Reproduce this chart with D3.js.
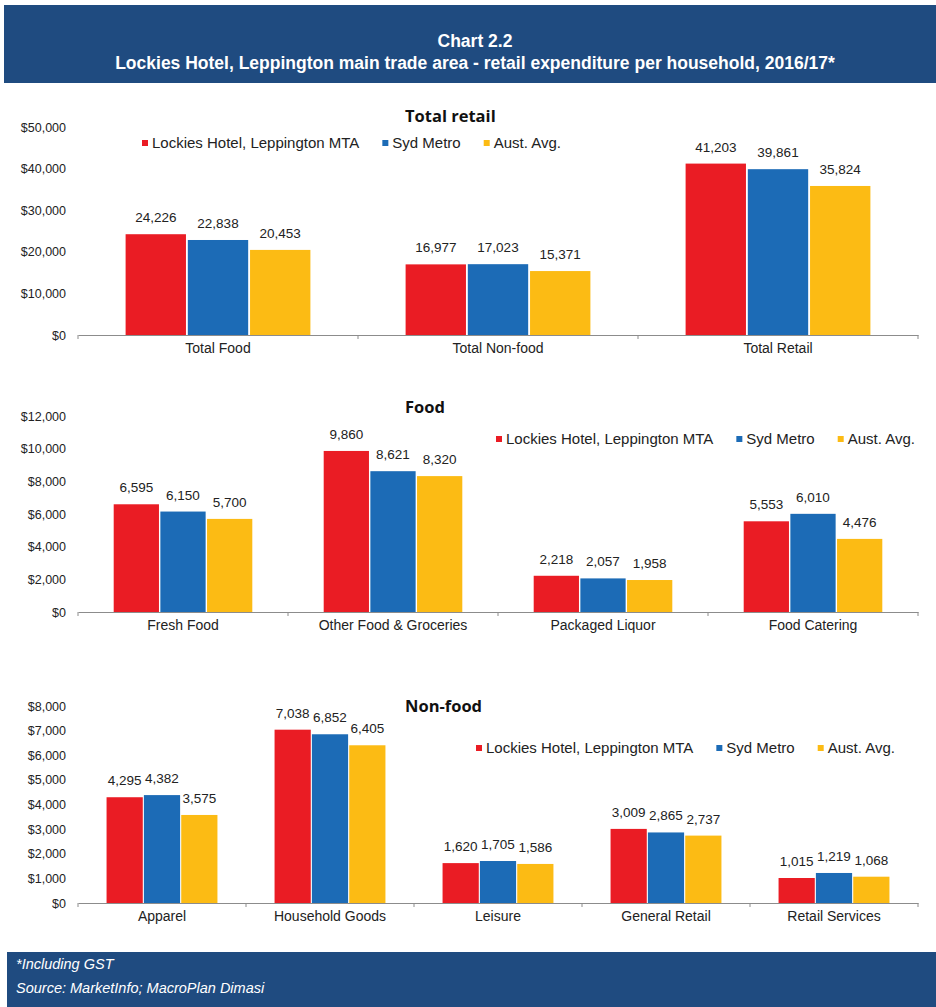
<!DOCTYPE html>
<html><head><meta charset="utf-8">
<script src="https://cdn.jsdelivr.net/npm/d3@7/dist/d3.min.js"></script>
<style>
body{margin:0;background:#fff;}
svg{display:block;font-family:"Liberation Sans",Arial,sans-serif;}
</style></head>
<body>
<svg id="c" width="936" height="1007"></svg>
<script>
const series = ["Lockies Hotel, Leppington MTA", "Syd Metro", "Aust. Avg."];
const seriesColors = ["#ea1c24", "#1c6bb6", "#fcbb14"];

const totalCats = ["Total Food", "Total Non-food", "Total Retail"];
const totalLockies = [24226, 16977, 41203];
const totalSyd = [22838, 17023, 39861];
const totalAust = [20453, 15371, 35824];
const totalTicks = [0, 10000, 20000, 30000, 40000, 50000];

const foodCats = ["Fresh Food", "Other Food & Groceries", "Packaged Liquor", "Food Catering"];
const foodLockies = [6595, 9860, 2218, 5553];
const foodSyd = [6150, 8621, 2057, 6010];
const foodAust = [5700, 8320, 1958, 4476];
const foodTicks = [0, 2000, 4000, 6000, 8000, 10000, 12000];

const nonfoodCats = ["Apparel", "Household Goods", "Leisure", "General Retail", "Retail Services"];
const nonfoodLockies = [4295, 7038, 1620, 3009, 1015];
const nonfoodSyd = [4382, 6852, 1705, 2865, 1219];
const nonfoodAust = [3575, 6405, 1586, 2737, 1068];
const nonfoodTicks = [0, 1000, 2000, 3000, 4000, 5000, 6000, 7000, 8000];

const svg = d3.select("#c");
const HB = "#1f4b80";

// header
svg.append("rect").attr("x", 4).attr("y", 5).attr("width", 932).attr("height", 78).attr("fill", HB);
svg.append("text").attr("x", 475).attr("y", 47).attr("text-anchor", "middle").attr("fill", "#fff")
  .attr("font-size", 17.5).attr("font-weight", "bold").text("Chart 2.2");
svg.append("text").attr("x", 475).attr("y", 69).attr("text-anchor", "middle").attr("fill", "#fff")
  .attr("font-size", 17.5).attr("font-weight", "bold")
  .text("Lockies Hotel, Leppington main trade area - retail expenditure per household, 2016/17*");

// footer
svg.append("rect").attr("x", 7).attr("y", 952).attr("width", 929).attr("height", 55).attr("fill", HB);
svg.append("text").attr("x", 16).attr("y", 969).attr("fill", "#fff").attr("font-size", 14.5)
  .attr("font-style", "italic").text("*Including GST");
svg.append("text").attr("x", 16).attr("y", 993).attr("fill", "#fff").attr("font-size", 14.5)
  .attr("font-style", "italic").text("Source: MarketInfo; MacroPlan Dimasi");

const panels = [
  {title: "Total retail", titleY: 122, cats: totalCats, vals: [totalLockies, totalSyd, totalAust], ticks: totalTicks,
   y0: 335, y1: 127, legX: 145, legY: 143},
  {title: "Food", titleY: 413, cats: foodCats, vals: [foodLockies, foodSyd, foodAust], ticks: foodTicks,
   y0: 612, y1: 416, legX: 499, legY: 439},
  {title: "Non-food", titleY: 712, cats: nonfoodCats, vals: [nonfoodLockies, nonfoodSyd, nonfoodAust], ticks: nonfoodTicks,
   y0: 903, y1: 706, legX: 479, legY: 748}
];

const fmt = d3.format(",");
const money = v => "$" + d3.format(",")(v);

panels.forEach(p => {
  const g = svg.append("g");
  const x = d3.scaleBand().domain(p.cats).range([78, 918]).paddingInner(0).paddingOuter(0);
  const bw = x.bandwidth();
  const xs = d3.scaleBand().domain(series).range([bw * 0.17, bw * 0.83]).paddingInner(0.03);
  const y = d3.scaleLinear().domain([0, d3.max(p.ticks)]).range([p.y0, p.y1]);

  // title
  g.append("text").attr("x", 405).attr("y", p.titleY).attr("font-size", 16.5).attr("font-weight", "bold")
    .attr("fill", "#111").attr("font-family", "'Open Sans','Liberation Sans',sans-serif").text(p.title);

  // y axis
  const ya = g.append("g").attr("transform", "translate(78,0)")
    .call(d3.axisLeft(y).tickValues(p.ticks).tickFormat(money).tickSize(0).tickPadding(12));
  ya.select(".domain").remove();
  ya.selectAll("text").attr("font-size", 12.5).attr("fill", "#222").attr("font-family", "'Liberation Sans',Arial,sans-serif");

  // bars
  series.forEach((s, si) => {
    g.selectAll(null).data(p.cats).enter().append("rect")
      .attr("x", c => x(c) + xs(s))
      .attr("width", xs.bandwidth())
      .attr("y", (c, i) => y(p.vals[si][i]))
      .attr("height", (c, i) => y(0) - y(p.vals[si][i]))
      .attr("fill", seriesColors[si]);
    g.selectAll(null).data(p.cats).enter().append("text")
      .attr("x", c => x(c) + xs(s) + xs.bandwidth() / 2)
      .attr("y", (c, i) => y(p.vals[si][i]) - 12)
      .attr("text-anchor", "middle").attr("font-size", 13.5).attr("fill", "#222")
      .text((c, i) => fmt(p.vals[si][i]));
  });

  // x axis
  const xa = g.append("g").attr("transform", `translate(0,${p.y0})`)
    .call(d3.axisBottom(x).tickSize(0).tickPadding(8));
  xa.select(".domain").attr("stroke", "#8c8c8c").attr("stroke-width", 1.2);
  xa.selectAll("text").attr("font-size", 14).attr("fill", "#222").attr("font-family", "'Liberation Sans',Arial,sans-serif");
  const bounds = p.cats.map(c => x(c)).concat([x.range()[1]]);
  g.selectAll(null).data(bounds).enter().append("line")
    .attr("x1", d => d).attr("x2", d => d).attr("y1", p.y0).attr("y2", p.y0 + 4)
    .attr("stroke", "#8c8c8c").attr("stroke-width", 1);

  // legend
  let lx = p.legX;
  series.forEach((s, si) => {
    g.append("rect").attr("x", lx - 3).attr("y", p.legY - 3).attr("width", 6).attr("height", 6).attr("fill", seriesColors[si]);
    const t = g.append("text").attr("x", lx + 7).attr("y", p.legY).attr("dy", "0.35em")
      .attr("font-size", 15).attr("fill", "#222").text(s);
    lx = lx + 7 + t.node().getComputedTextLength() + 26;
  });
});
</script>
</body></html>
